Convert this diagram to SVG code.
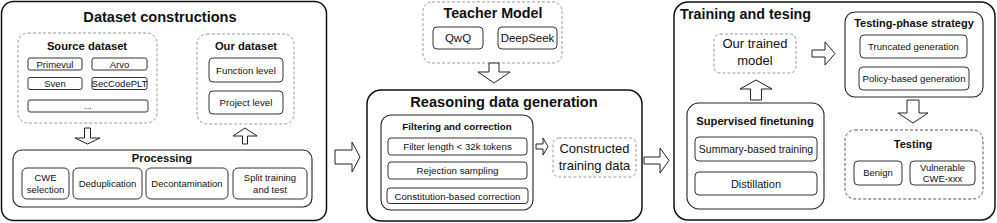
<svg xmlns="http://www.w3.org/2000/svg" width="997" height="223" viewBox="0 0 997 223">
<style>
text{font-family:"Liberation Sans",Arial,sans-serif;fill:#111;text-anchor:middle}
.big{fill:#fff;stroke:#111;stroke-width:1.5}
.mid{fill:#fff;stroke:#222;stroke-width:1.1}
.box{fill:#fff;stroke:#333;stroke-width:1}
.dash{fill:#fff;stroke:#999;stroke-width:1;stroke-dasharray:3 2}
.dash2{fill:#fff;stroke:#555;stroke-width:1;stroke-dasharray:3 2}
.h1{font-size:14.6px;font-weight:bold}
.h2{font-size:11.2px;font-weight:bold}
.t{font-size:9.5px}
.l{font-size:13px}
.arr{fill:#fff;stroke:#222;stroke-width:1}
</style>
<rect width="997" height="223" fill="#fff"/>
<g id="dataset-constructions">
<rect class="big" x="1.5" y="1.5" width="325" height="219" rx="12"/>
<text class="h1" x="160" y="22">Dataset constructions</text>
</g>
<g id="source-dataset">
<rect class="dash" x="18" y="33" width="139" height="90" rx="10"/>
<text class="h2" x="87" y="50">Source dataset</text>
<rect class="box" x="28" y="58" width="54" height="12" rx="2"/>
<text class="t" x="55" y="67.5">Primevul</text>
<rect class="box" x="92" y="58" width="55" height="12" rx="2"/>
<text class="t" x="119.5" y="67.5">Arvo</text>
<rect class="box" x="28" y="77.5" width="54" height="12" rx="2"/>
<text class="t" x="55" y="87">Sven</text>
<rect class="box" x="92" y="77.5" width="55" height="12" rx="2"/>
<text class="t" x="119.5" y="87">SecCodePLT</text>
<rect class="box" x="28" y="100" width="120" height="12" rx="2"/>
<text class="t" x="88" y="109">...</text>
</g>
<g id="our-dataset">
<rect class="dash" x="197" y="34" width="97" height="90" rx="10"/>
<text class="h2" x="246" y="50">Our dataset</text>
<rect class="box" x="209" y="58" width="74" height="24" rx="4"/>
<text class="t" x="246" y="73.5" style="font-size:9.7px">Function level</text>
<rect class="box" x="209" y="91" width="74" height="23" rx="4"/>
<text class="t" x="246" y="106" style="font-size:9.7px">Project level</text>
</g>
<g id="processing">
<rect class="mid" x="13" y="150" width="299" height="57" rx="9"/>
<text class="h2" x="162" y="162">Processing</text>
<rect class="box" x="22" y="168" width="47" height="31" rx="5"/>
<text class="t" x="45.5" y="180.5">CWE</text>
<text class="t" x="45.5" y="192.5">selection</text>
<rect class="box" x="73" y="168" width="69" height="31" rx="5"/>
<text class="t" x="107.5" y="186.5">Deduplication</text>
<rect class="box" x="146" y="168" width="82" height="31" rx="5"/>
<text class="t" x="187" y="186.5">Decontamination</text>
<rect class="box" x="233" y="168" width="74" height="31" rx="5"/>
<text class="t" x="270" y="180.5">Split training</text>
<text class="t" x="270" y="192.5">and test</text>
</g>
<g id="teacher-model">
<rect class="dash" x="423" y="2" width="139" height="61" rx="9"/>
<text class="h1" x="493" y="18" style="font-size:14.3px">Teacher Model</text>
<rect class="box" x="433" y="27" width="50" height="22" rx="4"/>
<text x="458" y="42" style="font-size:11.5px">QwQ</text>
<rect class="box" x="498" y="27" width="59" height="22" rx="4"/>
<text x="527.5" y="42" style="font-size:11.5px">DeepSeek</text>
</g>
<g id="reasoning-data-generation">
<rect class="big" x="367" y="90" width="275" height="131" rx="14"/>
<text class="h1" x="504" y="107">Reasoning data generation</text>
</g>
<g id="filtering-and-correction">
<rect class="mid" x="381" y="115" width="152" height="95" rx="10"/>
<text x="457" y="130" style="font-size:9.8px;font-weight:bold">Filtering and correction</text>
<rect class="box" x="388" y="138" width="139" height="17" rx="3"/>
<text class="t" x="457.5" y="150" style="font-size:9.7px">Filter length &lt; 32k tokens</text>
<rect class="box" x="388" y="162" width="139" height="17" rx="3"/>
<text class="t" x="457.5" y="174" style="font-size:9.7px">Rejection sampling</text>
<rect class="box" x="387" y="188" width="141" height="15.5" rx="3"/>
<text class="t" x="457.5" y="199.5" style="font-size:9.7px">Constitution-based correction</text>
</g>
<g id="constructed-training-data">
<rect class="dash" x="553" y="138" width="83" height="39" rx="6"/>
<text class="l" x="594.5" y="153">Constructed</text>
<text class="l" x="594.5" y="170">training data</text>
</g>
<g id="training-and-testing">
<rect class="big" x="674" y="2" width="321" height="218" rx="14"/>
<text class="h1" x="680" y="19" style="text-anchor:start;font-size:14.3px">Training and tesing</text>
</g>
<g id="our-trained-model">
<rect class="dash" x="714" y="34" width="82" height="39" rx="6"/>
<text class="l" x="755" y="48">Our trained</text>
<text class="l" x="755" y="65">model</text>
</g>
<g id="testing-phase-strategy">
<rect class="mid" x="845" y="12" width="138" height="85" rx="10"/>
<text class="h2" x="914" y="27" style="font-size:11px">Testing-phase strategy</text>
<rect class="box" x="860" y="35" width="107" height="23" rx="4"/>
<text class="t" x="913.5" y="50" style="font-size:9.6px">Truncated generation</text>
<rect class="box" x="859" y="67" width="110" height="23" rx="4"/>
<text class="t" x="914" y="82" style="font-size:9.6px">Policy-based generation</text>
</g>
<g id="testing">
<rect class="dash2" x="845" y="130" width="138" height="69" rx="10"/>
<text class="h2" x="913" y="148" style="font-size:11px">Testing</text>
<rect class="box" x="854" y="161" width="48" height="24" rx="4"/>
<text class="t" x="878" y="176">Benign</text>
<rect class="box" x="910" y="161" width="65" height="24" rx="4"/>
<text class="t" x="942.5" y="171">Vulnerable</text>
<text class="t" x="942.5" y="182">CWE-xxx</text>
</g>
<g id="supervised-finetuning">
<rect class="mid" x="687" y="103" width="137" height="106" rx="12"/>
<text class="h2" x="755" y="125">Supervised finetuning</text>
<rect class="box" x="695" y="137" width="122" height="24" rx="4"/>
<text x="756" y="153" style="font-size:10.5px">Summary-based training</text>
<rect class="box" x="695" y="172" width="122" height="23" rx="4"/>
<text x="756" y="188" style="font-size:11px">Distillation</text>
</g>
<g id="connectors">
<path class="arr" d="M84.5,128 H90.5 V138 H100 L87.5,144 L75,138 H84.5 Z"/>
<path class="arr" d="M242.5,144 V136 H233 L245,128 L257,136 H247.5 V144 Z"/>
<path class="arr" d="M335,150 H352 V142 L360,157 L352,172 V164 H335 Z"/>
<path class="arr" d="M489,63 H499 V72 H510 L494,83 L478,72 H489 Z"/>
<path class="arr" d="M536,144 H543 V138 L548,146.5 L543,155 V149 H536 Z"/>
<path class="arr" d="M644,157 H660 V148 L669,160.5 L660,173 V164 H644 Z"/>
<path class="arr" d="M812,50 H825 V42 L835,53.5 L825,65 V57 H812 Z"/>
<path class="arr" d="M750.5,100 V89 H740 L756,80 L772,89 H761.5 V100 Z"/>
<path class="arr" d="M907,100 H919 V113 H928 L913,123 L898,113 H907 Z"/>
</g>
</svg>
